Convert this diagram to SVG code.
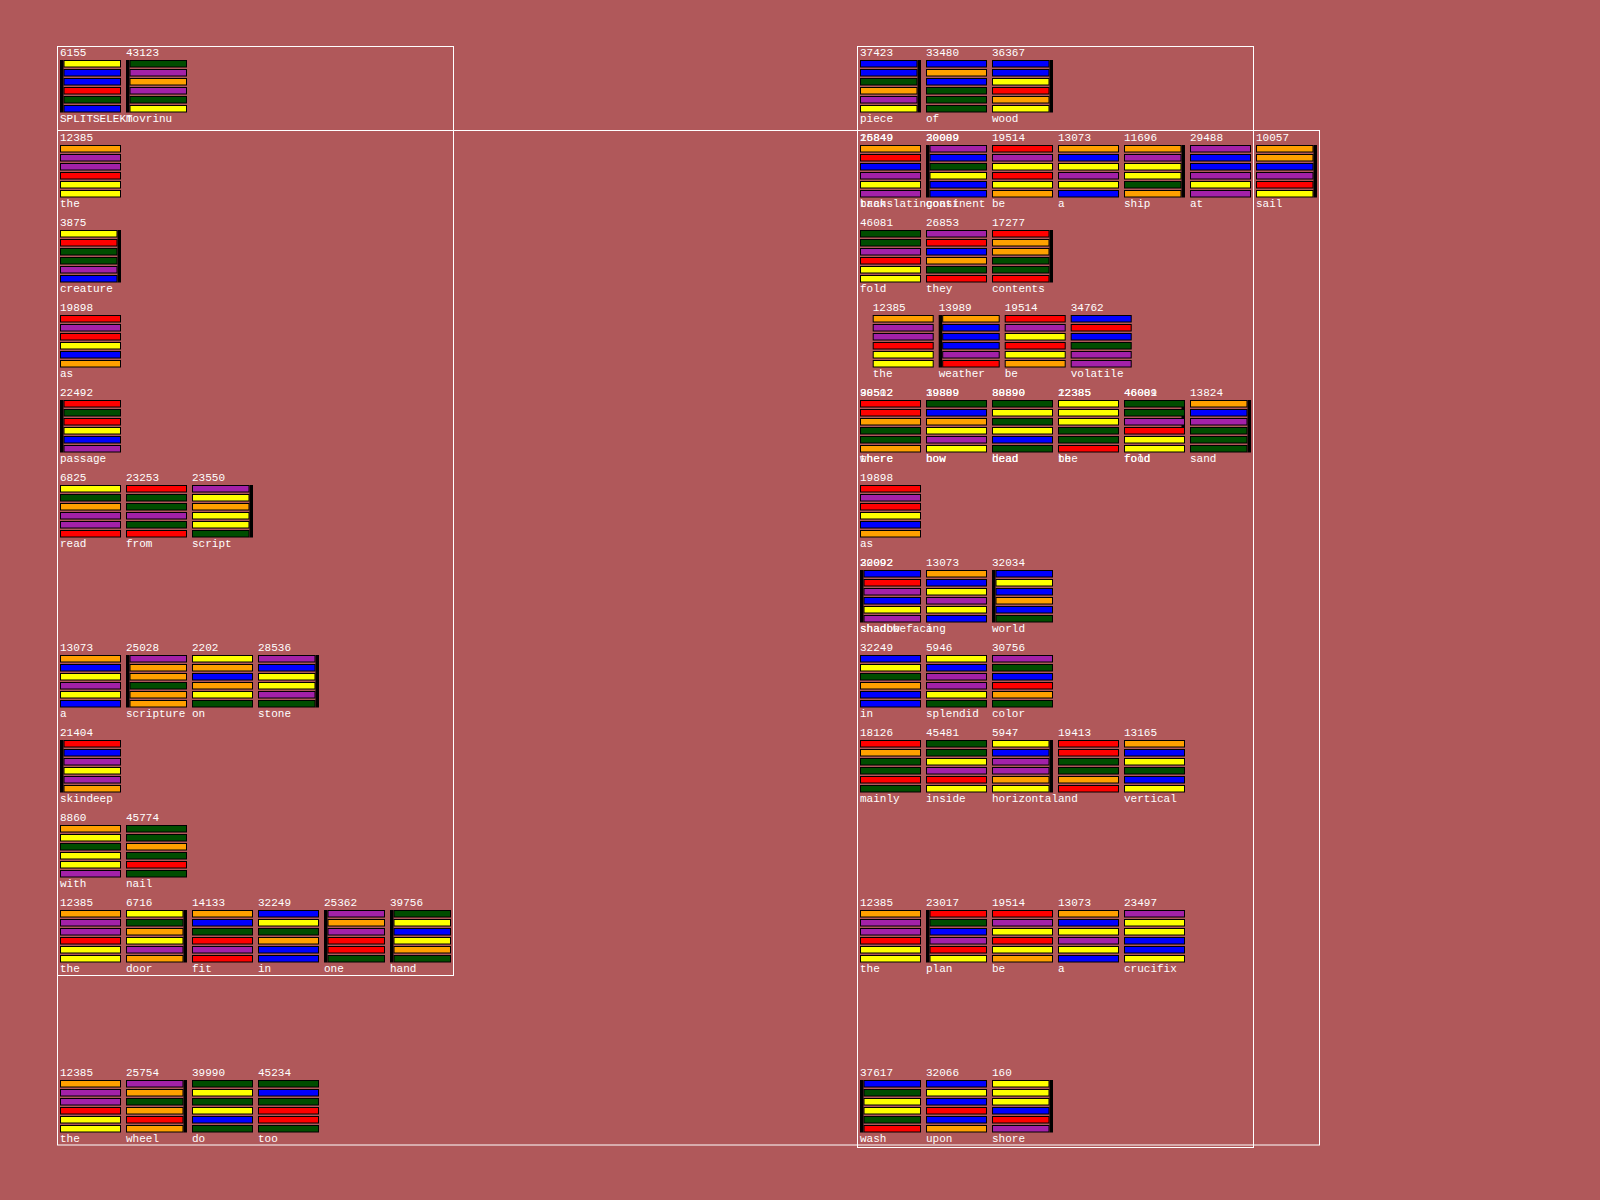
<svg xmlns="http://www.w3.org/2000/svg" width="1600" height="1200" viewBox="0 0 1600 1200">
<style>
text{font-family:"Liberation Mono","DejaVu Sans Mono",monospace;font-size:11px;fill:#fff}
.Y,.B,.R,.G,.P,.O{stroke:#000;stroke-width:1}
.Y{fill:#ffff00}.B{fill:#0000ff}.R{fill:#ff0000}.G{fill:#004d00}.P{fill:#a321a8}.O{fill:#ffa000}
.k{fill:#000}
.frame{fill:none;stroke:#fff;stroke-width:1}
</style>
<rect width="1600" height="1200" fill="#b0585a"/>
<g id="frames">
<rect class="frame" x="57.5" y="46.5" width="396" height="929"/>
<rect class="frame" x="857.5" y="46.5" width="396" height="1101"/>
<rect class="frame" x="57.5" y="130.5" width="1262" height="1014.5"/>
</g>
<g id="connectors"></g>
<g id="left-nodes">
<g id="n-6155" transform="translate(60,60)"><text y="-4.3">6155</text><rect class="k" width="3.5" height="52.5"/><rect class="Y" x="4" y="0.5" width="56.5" height="6.5"/><rect class="B" x="4" y="9.5" width="56.5" height="6.5"/><rect class="B" x="4" y="18.5" width="56.5" height="6.5"/><rect class="R" x="4" y="27.5" width="56.5" height="6.5"/><rect class="G" x="4" y="36.5" width="56.5" height="6.5"/><rect class="B" x="4" y="45.5" width="56.5" height="6.5"/><text y="62.4">SPLITSELEKT</text></g>
<g id="n-43123" transform="translate(126,60)"><text y="-4.3">43123</text><rect class="k" width="3.5" height="52.5"/><rect class="G" x="4" y="0.5" width="56.5" height="6.5"/><rect class="P" x="4" y="9.5" width="56.5" height="6.5"/><rect class="O" x="4" y="18.5" width="56.5" height="6.5"/><rect class="P" x="4" y="27.5" width="56.5" height="6.5"/><rect class="G" x="4" y="36.5" width="56.5" height="6.5"/><rect class="Y" x="4" y="45.5" width="56.5" height="6.5"/><text y="62.4">movrinu</text></g>
<g id="n-12385-a" transform="translate(60,145)"><text y="-4.3">12385</text><rect class="O" x="0.5" y="0.5" width="60" height="6.5"/><rect class="P" x="0.5" y="9.5" width="60" height="6.5"/><rect class="P" x="0.5" y="18.5" width="60" height="6.5"/><rect class="R" x="0.5" y="27.5" width="60" height="6.5"/><rect class="Y" x="0.5" y="36.5" width="60" height="6.5"/><rect class="Y" x="0.5" y="45.5" width="60" height="6.5"/><text y="62.4">the</text></g>
<g id="n-3875" transform="translate(60,230)"><text y="-4.3">3875</text><rect class="k" x="57.5" width="3.5" height="52.5"/><rect class="Y" x="0.5" y="0.5" width="56.5" height="6.5"/><rect class="R" x="0.5" y="9.5" width="56.5" height="6.5"/><rect class="G" x="0.5" y="18.5" width="56.5" height="6.5"/><rect class="G" x="0.5" y="27.5" width="56.5" height="6.5"/><rect class="P" x="0.5" y="36.5" width="56.5" height="6.5"/><rect class="B" x="0.5" y="45.5" width="56.5" height="6.5"/><text y="62.4">creature</text></g>
<g id="n-19898-a" transform="translate(60,315)"><text y="-4.3">19898</text><rect class="R" x="0.5" y="0.5" width="60" height="6.5"/><rect class="P" x="0.5" y="9.5" width="60" height="6.5"/><rect class="R" x="0.5" y="18.5" width="60" height="6.5"/><rect class="Y" x="0.5" y="27.5" width="60" height="6.5"/><rect class="B" x="0.5" y="36.5" width="60" height="6.5"/><rect class="O" x="0.5" y="45.5" width="60" height="6.5"/><text y="62.4">as</text></g>
<g id="n-22492" transform="translate(60,400)"><text y="-4.3">22492</text><rect class="k" width="3.5" height="52.5"/><rect class="R" x="4" y="0.5" width="56.5" height="6.5"/><rect class="G" x="4" y="9.5" width="56.5" height="6.5"/><rect class="R" x="4" y="18.5" width="56.5" height="6.5"/><rect class="Y" x="4" y="27.5" width="56.5" height="6.5"/><rect class="B" x="4" y="36.5" width="56.5" height="6.5"/><rect class="P" x="4" y="45.5" width="56.5" height="6.5"/><text y="62.4">passage</text></g>
<g id="n-6825" transform="translate(60,485)"><text y="-4.3">6825</text><rect class="Y" x="0.5" y="0.5" width="60" height="6.5"/><rect class="G" x="0.5" y="9.5" width="60" height="6.5"/><rect class="O" x="0.5" y="18.5" width="60" height="6.5"/><rect class="P" x="0.5" y="27.5" width="60" height="6.5"/><rect class="P" x="0.5" y="36.5" width="60" height="6.5"/><rect class="R" x="0.5" y="45.5" width="60" height="6.5"/><text y="62.4">read</text></g>
<g id="n-23253" transform="translate(126,485)"><text y="-4.3">23253</text><rect class="R" x="0.5" y="0.5" width="60" height="6.5"/><rect class="G" x="0.5" y="9.5" width="60" height="6.5"/><rect class="G" x="0.5" y="18.5" width="60" height="6.5"/><rect class="P" x="0.5" y="27.5" width="60" height="6.5"/><rect class="G" x="0.5" y="36.5" width="60" height="6.5"/><rect class="R" x="0.5" y="45.5" width="60" height="6.5"/><text y="62.4">from</text></g>
<g id="n-23550" transform="translate(192,485)"><text y="-4.3">23550</text><rect class="k" x="57.5" width="3.5" height="52.5"/><rect class="P" x="0.5" y="0.5" width="56.5" height="6.5"/><rect class="Y" x="0.5" y="9.5" width="56.5" height="6.5"/><rect class="O" x="0.5" y="18.5" width="56.5" height="6.5"/><rect class="Y" x="0.5" y="27.5" width="56.5" height="6.5"/><rect class="Y" x="0.5" y="36.5" width="56.5" height="6.5"/><rect class="G" x="0.5" y="45.5" width="56.5" height="6.5"/><text y="62.4">script</text></g>
<g id="n-13073-a" transform="translate(60,655)"><text y="-4.3">13073</text><rect class="O" x="0.5" y="0.5" width="60" height="6.5"/><rect class="B" x="0.5" y="9.5" width="60" height="6.5"/><rect class="Y" x="0.5" y="18.5" width="60" height="6.5"/><rect class="P" x="0.5" y="27.5" width="60" height="6.5"/><rect class="Y" x="0.5" y="36.5" width="60" height="6.5"/><rect class="B" x="0.5" y="45.5" width="60" height="6.5"/><text y="62.4">a</text></g>
<g id="n-25028" transform="translate(126,655)"><text y="-4.3">25028</text><rect class="k" width="3.5" height="52.5"/><rect class="P" x="4" y="0.5" width="56.5" height="6.5"/><rect class="O" x="4" y="9.5" width="56.5" height="6.5"/><rect class="O" x="4" y="18.5" width="56.5" height="6.5"/><rect class="G" x="4" y="27.5" width="56.5" height="6.5"/><rect class="O" x="4" y="36.5" width="56.5" height="6.5"/><rect class="O" x="4" y="45.5" width="56.5" height="6.5"/><text y="62.4">scripture</text></g>
<g id="n-2202" transform="translate(192,655)"><text y="-4.3">2202</text><rect class="Y" x="0.5" y="0.5" width="60" height="6.5"/><rect class="O" x="0.5" y="9.5" width="60" height="6.5"/><rect class="B" x="0.5" y="18.5" width="60" height="6.5"/><rect class="O" x="0.5" y="27.5" width="60" height="6.5"/><rect class="Y" x="0.5" y="36.5" width="60" height="6.5"/><rect class="G" x="0.5" y="45.5" width="60" height="6.5"/><text y="62.4">on</text></g>
<g id="n-28536" transform="translate(258,655)"><text y="-4.3">28536</text><rect class="k" x="57.5" width="3.5" height="52.5"/><rect class="P" x="0.5" y="0.5" width="56.5" height="6.5"/><rect class="B" x="0.5" y="9.5" width="56.5" height="6.5"/><rect class="Y" x="0.5" y="18.5" width="56.5" height="6.5"/><rect class="Y" x="0.5" y="27.5" width="56.5" height="6.5"/><rect class="P" x="0.5" y="36.5" width="56.5" height="6.5"/><rect class="G" x="0.5" y="45.5" width="56.5" height="6.5"/><text y="62.4">stone</text></g>
<g id="n-21404" transform="translate(60,740)"><text y="-4.3">21404</text><rect class="k" width="3.5" height="52.5"/><rect class="R" x="4" y="0.5" width="56.5" height="6.5"/><rect class="B" x="4" y="9.5" width="56.5" height="6.5"/><rect class="P" x="4" y="18.5" width="56.5" height="6.5"/><rect class="Y" x="4" y="27.5" width="56.5" height="6.5"/><rect class="P" x="4" y="36.5" width="56.5" height="6.5"/><rect class="O" x="4" y="45.5" width="56.5" height="6.5"/><text y="62.4">skindeep</text></g>
<g id="n-8860" transform="translate(60,825)"><text y="-4.3">8860</text><rect class="O" x="0.5" y="0.5" width="60" height="6.5"/><rect class="Y" x="0.5" y="9.5" width="60" height="6.5"/><rect class="G" x="0.5" y="18.5" width="60" height="6.5"/><rect class="Y" x="0.5" y="27.5" width="60" height="6.5"/><rect class="Y" x="0.5" y="36.5" width="60" height="6.5"/><rect class="P" x="0.5" y="45.5" width="60" height="6.5"/><text y="62.4">with</text></g>
<g id="n-45774" transform="translate(126,825)"><text y="-4.3">45774</text><rect class="G" x="0.5" y="0.5" width="60" height="6.5"/><rect class="G" x="0.5" y="9.5" width="60" height="6.5"/><rect class="O" x="0.5" y="18.5" width="60" height="6.5"/><rect class="G" x="0.5" y="27.5" width="60" height="6.5"/><rect class="R" x="0.5" y="36.5" width="60" height="6.5"/><rect class="G" x="0.5" y="45.5" width="60" height="6.5"/><text y="62.4">nail</text></g>
<g id="n-12385-b" transform="translate(60,910)"><text y="-4.3">12385</text><rect class="O" x="0.5" y="0.5" width="60" height="6.5"/><rect class="P" x="0.5" y="9.5" width="60" height="6.5"/><rect class="P" x="0.5" y="18.5" width="60" height="6.5"/><rect class="R" x="0.5" y="27.5" width="60" height="6.5"/><rect class="Y" x="0.5" y="36.5" width="60" height="6.5"/><rect class="Y" x="0.5" y="45.5" width="60" height="6.5"/><text y="62.4">the</text></g>
<g id="n-6716" transform="translate(126,910)"><text y="-4.3">6716</text><rect class="k" x="57.5" width="3.5" height="52.5"/><rect class="Y" x="0.5" y="0.5" width="56.5" height="6.5"/><rect class="G" x="0.5" y="9.5" width="56.5" height="6.5"/><rect class="O" x="0.5" y="18.5" width="56.5" height="6.5"/><rect class="Y" x="0.5" y="27.5" width="56.5" height="6.5"/><rect class="P" x="0.5" y="36.5" width="56.5" height="6.5"/><rect class="O" x="0.5" y="45.5" width="56.5" height="6.5"/><text y="62.4">door</text></g>
<g id="n-14133" transform="translate(192,910)"><text y="-4.3">14133</text><rect class="O" x="0.5" y="0.5" width="60" height="6.5"/><rect class="B" x="0.5" y="9.5" width="60" height="6.5"/><rect class="G" x="0.5" y="18.5" width="60" height="6.5"/><rect class="R" x="0.5" y="27.5" width="60" height="6.5"/><rect class="P" x="0.5" y="36.5" width="60" height="6.5"/><rect class="R" x="0.5" y="45.5" width="60" height="6.5"/><text y="62.4">fit</text></g>
<g id="n-32249-a" transform="translate(258,910)"><text y="-4.3">32249</text><rect class="B" x="0.5" y="0.5" width="60" height="6.5"/><rect class="Y" x="0.5" y="9.5" width="60" height="6.5"/><rect class="G" x="0.5" y="18.5" width="60" height="6.5"/><rect class="O" x="0.5" y="27.5" width="60" height="6.5"/><rect class="B" x="0.5" y="36.5" width="60" height="6.5"/><rect class="B" x="0.5" y="45.5" width="60" height="6.5"/><text y="62.4">in</text></g>
<g id="n-25362" transform="translate(324,910)"><text y="-4.3">25362</text><rect class="k" width="3.5" height="52.5"/><rect class="P" x="4" y="0.5" width="56.5" height="6.5"/><rect class="O" x="4" y="9.5" width="56.5" height="6.5"/><rect class="P" x="4" y="18.5" width="56.5" height="6.5"/><rect class="R" x="4" y="27.5" width="56.5" height="6.5"/><rect class="R" x="4" y="36.5" width="56.5" height="6.5"/><rect class="G" x="4" y="45.5" width="56.5" height="6.5"/><text y="62.4">one</text></g>
<g id="n-39756" transform="translate(390,910)"><text y="-4.3">39756</text><rect class="k" width="3.5" height="52.5"/><rect class="G" x="4" y="0.5" width="56.5" height="6.5"/><rect class="Y" x="4" y="9.5" width="56.5" height="6.5"/><rect class="B" x="4" y="18.5" width="56.5" height="6.5"/><rect class="Y" x="4" y="27.5" width="56.5" height="6.5"/><rect class="O" x="4" y="36.5" width="56.5" height="6.5"/><rect class="G" x="4" y="45.5" width="56.5" height="6.5"/><text y="62.4">hand</text></g>
<g id="n-12385-c" transform="translate(60,1080)"><text y="-4.3">12385</text><rect class="O" x="0.5" y="0.5" width="60" height="6.5"/><rect class="P" x="0.5" y="9.5" width="60" height="6.5"/><rect class="P" x="0.5" y="18.5" width="60" height="6.5"/><rect class="R" x="0.5" y="27.5" width="60" height="6.5"/><rect class="Y" x="0.5" y="36.5" width="60" height="6.5"/><rect class="Y" x="0.5" y="45.5" width="60" height="6.5"/><text y="62.4">the</text></g>
<g id="n-25754" transform="translate(126,1080)"><text y="-4.3">25754</text><rect class="k" x="57.5" width="3.5" height="52.5"/><rect class="P" x="0.5" y="0.5" width="56.5" height="6.5"/><rect class="O" x="0.5" y="9.5" width="56.5" height="6.5"/><rect class="G" x="0.5" y="18.5" width="56.5" height="6.5"/><rect class="O" x="0.5" y="27.5" width="56.5" height="6.5"/><rect class="R" x="0.5" y="36.5" width="56.5" height="6.5"/><rect class="O" x="0.5" y="45.5" width="56.5" height="6.5"/><text y="62.4">wheel</text></g>
<g id="n-39990" transform="translate(192,1080)"><text y="-4.3">39990</text><rect class="G" x="0.5" y="0.5" width="60" height="6.5"/><rect class="Y" x="0.5" y="9.5" width="60" height="6.5"/><rect class="G" x="0.5" y="18.5" width="60" height="6.5"/><rect class="Y" x="0.5" y="27.5" width="60" height="6.5"/><rect class="B" x="0.5" y="36.5" width="60" height="6.5"/><rect class="G" x="0.5" y="45.5" width="60" height="6.5"/><text y="62.4">do</text></g>
<g id="n-45234" transform="translate(258,1080)"><text y="-4.3">45234</text><rect class="G" x="0.5" y="0.5" width="60" height="6.5"/><rect class="B" x="0.5" y="9.5" width="60" height="6.5"/><rect class="G" x="0.5" y="18.5" width="60" height="6.5"/><rect class="R" x="0.5" y="27.5" width="60" height="6.5"/><rect class="R" x="0.5" y="36.5" width="60" height="6.5"/><rect class="G" x="0.5" y="45.5" width="60" height="6.5"/><text y="62.4">too</text></g>
</g>
<g id="right-nodes">
<g id="n-37423" transform="translate(860,60)"><text y="-4.3">37423</text><rect class="k" x="57.5" width="3.5" height="52.5"/><rect class="B" x="0.5" y="0.5" width="56.5" height="6.5"/><rect class="B" x="0.5" y="9.5" width="56.5" height="6.5"/><rect class="G" x="0.5" y="18.5" width="56.5" height="6.5"/><rect class="O" x="0.5" y="27.5" width="56.5" height="6.5"/><rect class="P" x="0.5" y="36.5" width="56.5" height="6.5"/><rect class="Y" x="0.5" y="45.5" width="56.5" height="6.5"/><text y="62.4">piece</text></g>
<g id="n-33480" transform="translate(926,60)"><text y="-4.3">33480</text><rect class="B" x="0.5" y="0.5" width="60" height="6.5"/><rect class="O" x="0.5" y="9.5" width="60" height="6.5"/><rect class="B" x="0.5" y="18.5" width="60" height="6.5"/><rect class="G" x="0.5" y="27.5" width="60" height="6.5"/><rect class="G" x="0.5" y="36.5" width="60" height="6.5"/><rect class="G" x="0.5" y="45.5" width="60" height="6.5"/><text y="62.4">of</text></g>
<g id="n-36367" transform="translate(992,60)"><text y="-4.3">36367</text><rect class="k" x="57.5" width="3.5" height="52.5"/><rect class="B" x="0.5" y="0.5" width="56.5" height="6.5"/><rect class="B" x="0.5" y="9.5" width="56.5" height="6.5"/><rect class="Y" x="0.5" y="18.5" width="56.5" height="6.5"/><rect class="R" x="0.5" y="27.5" width="56.5" height="6.5"/><rect class="O" x="0.5" y="36.5" width="56.5" height="6.5"/><rect class="Y" x="0.5" y="45.5" width="56.5" height="6.5"/><text y="62.4">wood</text></g>
<g id="n-translating" transform="translate(860,145)"><text y="-4.3">16849</text><text y="-4.3">25849</text><rect class="O" x="0.5" y="0.5" width="60" height="6.5"/><rect class="R" x="0.5" y="9.5" width="60" height="6.5"/><rect class="B" x="0.5" y="18.5" width="60" height="6.5"/><rect class="P" x="0.5" y="27.5" width="60" height="6.5"/><rect class="Y" x="0.5" y="36.5" width="60" height="6.5"/><rect class="P" x="0.5" y="45.5" width="60" height="6.5"/><text y="62.4">back</text><text y="62.4">translating</text></g>
<g id="n-continent" transform="translate(926,145)"><text y="-4.3">30009</text><text y="-4.3">20089</text><rect class="k" width="3.5" height="52.5"/><rect class="P" x="4" y="0.5" width="56.5" height="6.5"/><rect class="B" x="4" y="9.5" width="56.5" height="6.5"/><rect class="G" x="4" y="18.5" width="56.5" height="6.5"/><rect class="Y" x="4" y="27.5" width="56.5" height="6.5"/><rect class="B" x="4" y="36.5" width="56.5" height="6.5"/><rect class="B" x="4" y="45.5" width="56.5" height="6.5"/><text y="62.4">coast</text><text y="62.4">continent</text></g>
<g id="n-19514-a" transform="translate(992,145)"><text y="-4.3">19514</text><rect class="R" x="0.5" y="0.5" width="60" height="6.5"/><rect class="P" x="0.5" y="9.5" width="60" height="6.5"/><rect class="Y" x="0.5" y="18.5" width="60" height="6.5"/><rect class="R" x="0.5" y="27.5" width="60" height="6.5"/><rect class="Y" x="0.5" y="36.5" width="60" height="6.5"/><rect class="O" x="0.5" y="45.5" width="60" height="6.5"/><text y="62.4">be</text></g>
<g id="n-13073-b" transform="translate(1058,145)"><text y="-4.3">13073</text><rect class="O" x="0.5" y="0.5" width="60" height="6.5"/><rect class="B" x="0.5" y="9.5" width="60" height="6.5"/><rect class="Y" x="0.5" y="18.5" width="60" height="6.5"/><rect class="P" x="0.5" y="27.5" width="60" height="6.5"/><rect class="Y" x="0.5" y="36.5" width="60" height="6.5"/><rect class="B" x="0.5" y="45.5" width="60" height="6.5"/><text y="62.4">a</text></g>
<g id="n-11696" transform="translate(1124,145)"><text y="-4.3">11696</text><rect class="k" x="57.5" width="3.5" height="52.5"/><rect class="O" x="0.5" y="0.5" width="56.5" height="6.5"/><rect class="P" x="0.5" y="9.5" width="56.5" height="6.5"/><rect class="Y" x="0.5" y="18.5" width="56.5" height="6.5"/><rect class="Y" x="0.5" y="27.5" width="56.5" height="6.5"/><rect class="G" x="0.5" y="36.5" width="56.5" height="6.5"/><rect class="O" x="0.5" y="45.5" width="56.5" height="6.5"/><text y="62.4">ship</text></g>
<g id="n-29488" transform="translate(1190,145)"><text y="-4.3">29488</text><rect class="P" x="0.5" y="0.5" width="60" height="6.5"/><rect class="B" x="0.5" y="9.5" width="60" height="6.5"/><rect class="B" x="0.5" y="18.5" width="60" height="6.5"/><rect class="P" x="0.5" y="27.5" width="60" height="6.5"/><rect class="Y" x="0.5" y="36.5" width="60" height="6.5"/><rect class="P" x="0.5" y="45.5" width="60" height="6.5"/><text y="62.4">at</text></g>
<g id="n-10057" transform="translate(1256,145)"><text y="-4.3">10057</text><rect class="k" x="57.5" width="3.5" height="52.5"/><rect class="O" x="0.5" y="0.5" width="56.5" height="6.5"/><rect class="O" x="0.5" y="9.5" width="56.5" height="6.5"/><rect class="B" x="0.5" y="18.5" width="56.5" height="6.5"/><rect class="P" x="0.5" y="27.5" width="56.5" height="6.5"/><rect class="R" x="0.5" y="36.5" width="56.5" height="6.5"/><rect class="Y" x="0.5" y="45.5" width="56.5" height="6.5"/><text y="62.4">sail</text></g>
<g id="n-46081-a" transform="translate(860,230)"><text y="-4.3">46081</text><rect class="G" x="0.5" y="0.5" width="60" height="6.5"/><rect class="G" x="0.5" y="9.5" width="60" height="6.5"/><rect class="P" x="0.5" y="18.5" width="60" height="6.5"/><rect class="R" x="0.5" y="27.5" width="60" height="6.5"/><rect class="Y" x="0.5" y="36.5" width="60" height="6.5"/><rect class="Y" x="0.5" y="45.5" width="60" height="6.5"/><text y="62.4">fold</text></g>
<g id="n-26853" transform="translate(926,230)"><text y="-4.3">26853</text><rect class="P" x="0.5" y="0.5" width="60" height="6.5"/><rect class="R" x="0.5" y="9.5" width="60" height="6.5"/><rect class="B" x="0.5" y="18.5" width="60" height="6.5"/><rect class="O" x="0.5" y="27.5" width="60" height="6.5"/><rect class="G" x="0.5" y="36.5" width="60" height="6.5"/><rect class="R" x="0.5" y="45.5" width="60" height="6.5"/><text y="62.4">they</text></g>
<g id="n-17277" transform="translate(992,230)"><text y="-4.3">17277</text><rect class="k" x="57.5" width="3.5" height="52.5"/><rect class="R" x="0.5" y="0.5" width="56.5" height="6.5"/><rect class="O" x="0.5" y="9.5" width="56.5" height="6.5"/><rect class="O" x="0.5" y="18.5" width="56.5" height="6.5"/><rect class="G" x="0.5" y="27.5" width="56.5" height="6.5"/><rect class="G" x="0.5" y="36.5" width="56.5" height="6.5"/><rect class="R" x="0.5" y="45.5" width="56.5" height="6.5"/><text y="62.4">contents</text></g>
<g id="n-12385-d" transform="translate(872.7,315)"><text y="-4.3">12385</text><rect class="O" x="0.5" y="0.5" width="60" height="6.5"/><rect class="P" x="0.5" y="9.5" width="60" height="6.5"/><rect class="P" x="0.5" y="18.5" width="60" height="6.5"/><rect class="R" x="0.5" y="27.5" width="60" height="6.5"/><rect class="Y" x="0.5" y="36.5" width="60" height="6.5"/><rect class="Y" x="0.5" y="45.5" width="60" height="6.5"/><text y="62.4">the</text></g>
<g id="n-13989" transform="translate(938.7,315)"><text y="-4.3">13989</text><rect class="k" width="3.5" height="52.5"/><rect class="O" x="4" y="0.5" width="56.5" height="6.5"/><rect class="B" x="4" y="9.5" width="56.5" height="6.5"/><rect class="B" x="4" y="18.5" width="56.5" height="6.5"/><rect class="B" x="4" y="27.5" width="56.5" height="6.5"/><rect class="P" x="4" y="36.5" width="56.5" height="6.5"/><rect class="R" x="4" y="45.5" width="56.5" height="6.5"/><text y="62.4">weather</text></g>
<g id="n-19514-b" transform="translate(1004.7,315)"><text y="-4.3">19514</text><rect class="R" x="0.5" y="0.5" width="60" height="6.5"/><rect class="P" x="0.5" y="9.5" width="60" height="6.5"/><rect class="Y" x="0.5" y="18.5" width="60" height="6.5"/><rect class="R" x="0.5" y="27.5" width="60" height="6.5"/><rect class="Y" x="0.5" y="36.5" width="60" height="6.5"/><rect class="O" x="0.5" y="45.5" width="60" height="6.5"/><text y="62.4">be</text></g>
<g id="n-34762" transform="translate(1070.7,315)"><text y="-4.3">34762</text><rect class="B" x="0.5" y="0.5" width="60" height="6.5"/><rect class="R" x="0.5" y="9.5" width="60" height="6.5"/><rect class="B" x="0.5" y="18.5" width="60" height="6.5"/><rect class="G" x="0.5" y="27.5" width="60" height="6.5"/><rect class="P" x="0.5" y="36.5" width="60" height="6.5"/><rect class="P" x="0.5" y="45.5" width="60" height="6.5"/><text y="62.4">volatile</text></g>
<g id="n-where" transform="translate(860,400)"><text y="-4.3">30502</text><text y="-4.3">98512</text><rect class="R" x="0.5" y="0.5" width="60" height="6.5"/><rect class="R" x="0.5" y="9.5" width="60" height="6.5"/><rect class="O" x="0.5" y="18.5" width="60" height="6.5"/><rect class="G" x="0.5" y="27.5" width="60" height="6.5"/><rect class="G" x="0.5" y="36.5" width="60" height="6.5"/><rect class="O" x="0.5" y="45.5" width="60" height="6.5"/><text y="62.4">there</text><text y="62.4">where</text></g>
<g id="n-bow" transform="translate(926,400)"><text y="-4.3">39889</text><text y="-4.3">19809</text><rect class="G" x="0.5" y="0.5" width="60" height="6.5"/><rect class="B" x="0.5" y="9.5" width="60" height="6.5"/><rect class="O" x="0.5" y="18.5" width="60" height="6.5"/><rect class="Y" x="0.5" y="27.5" width="60" height="6.5"/><rect class="P" x="0.5" y="36.5" width="60" height="6.5"/><rect class="Y" x="0.5" y="45.5" width="60" height="6.5"/><text y="62.4">how</text><text y="62.4">bow</text></g>
<g id="n-dead" transform="translate(992,400)"><text y="-4.3">38890</text><text y="-4.3">80890</text><rect class="G" x="0.5" y="0.5" width="60" height="6.5"/><rect class="Y" x="0.5" y="9.5" width="60" height="6.5"/><rect class="G" x="0.5" y="18.5" width="60" height="6.5"/><rect class="Y" x="0.5" y="27.5" width="60" height="6.5"/><rect class="B" x="0.5" y="36.5" width="60" height="6.5"/><rect class="G" x="0.5" y="45.5" width="60" height="6.5"/><text y="62.4">head</text><text y="62.4">dead</text></g>
<g id="n-the-be" transform="translate(1058,400)"><text y="-4.3">22385</text><text y="-4.3">12385</text><rect class="Y" x="0.5" y="0.5" width="60" height="6.5"/><rect class="Y" x="0.5" y="9.5" width="60" height="6.5"/><rect class="Y" x="0.5" y="18.5" width="60" height="6.5"/><rect class="G" x="0.5" y="27.5" width="60" height="6.5"/><rect class="G" x="0.5" y="36.5" width="60" height="6.5"/><rect class="R" x="0.5" y="45.5" width="60" height="6.5"/><text y="62.4">the</text><text y="62.4">be</text></g>
<g id="n-food" transform="translate(1124,400)"><text y="-4.3">46009</text><text y="-4.3">46081</text><rect class="k" x="57.5" width="3.5" height="34"/><rect class="G" x="0.5" y="0.5" width="60" height="6.5"/><rect class="G" x="0.5" y="9.5" width="60" height="6.5"/><rect class="P" x="0.5" y="18.5" width="60" height="6.5"/><rect class="R" x="0.5" y="27.5" width="60" height="6.5"/><rect class="Y" x="0.5" y="36.5" width="60" height="6.5"/><rect class="Y" x="0.5" y="45.5" width="60" height="6.5"/><text y="62.4">food</text><text y="62.4">fold</text></g>
<g id="n-13824" transform="translate(1190,400)"><text y="-4.3">13824</text><rect class="k" x="57.5" width="3.5" height="52.5"/><rect class="O" x="0.5" y="0.5" width="56.5" height="6.5"/><rect class="B" x="0.5" y="9.5" width="56.5" height="6.5"/><rect class="P" x="0.5" y="18.5" width="56.5" height="6.5"/><rect class="G" x="0.5" y="27.5" width="56.5" height="6.5"/><rect class="G" x="0.5" y="36.5" width="56.5" height="6.5"/><rect class="G" x="0.5" y="45.5" width="56.5" height="6.5"/><text y="62.4">sand</text></g>
<g id="n-19898-b" transform="translate(860,485)"><text y="-4.3">19898</text><rect class="R" x="0.5" y="0.5" width="60" height="6.5"/><rect class="P" x="0.5" y="9.5" width="60" height="6.5"/><rect class="R" x="0.5" y="18.5" width="60" height="6.5"/><rect class="Y" x="0.5" y="27.5" width="60" height="6.5"/><rect class="B" x="0.5" y="36.5" width="60" height="6.5"/><rect class="O" x="0.5" y="45.5" width="60" height="6.5"/><text y="62.4">as</text></g>
<g id="n-shadow" transform="translate(860,570)"><text y="-4.3">20092</text><text y="-4.3">32092</text><rect class="k" width="3.5" height="52.5"/><rect class="B" x="4" y="0.5" width="56.5" height="6.5"/><rect class="R" x="4" y="9.5" width="56.5" height="6.5"/><rect class="P" x="4" y="18.5" width="56.5" height="6.5"/><rect class="B" x="4" y="27.5" width="56.5" height="6.5"/><rect class="Y" x="4" y="36.5" width="56.5" height="6.5"/><rect class="P" x="4" y="45.5" width="56.5" height="6.5"/><text y="62.4">shadbbefacing</text><text y="62.4">shadow</text></g>
<g id="n-13073-c" transform="translate(926,570)"><text y="-4.3">13073</text><rect class="O" x="0.5" y="0.5" width="60" height="6.5"/><rect class="B" x="0.5" y="9.5" width="60" height="6.5"/><rect class="Y" x="0.5" y="18.5" width="60" height="6.5"/><rect class="P" x="0.5" y="27.5" width="60" height="6.5"/><rect class="Y" x="0.5" y="36.5" width="60" height="6.5"/><rect class="B" x="0.5" y="45.5" width="60" height="6.5"/><text y="62.4">a</text></g>
<g id="n-32034" transform="translate(992,570)"><text y="-4.3">32034</text><rect class="k" width="3.5" height="52.5"/><rect class="B" x="4" y="0.5" width="56.5" height="6.5"/><rect class="Y" x="4" y="9.5" width="56.5" height="6.5"/><rect class="B" x="4" y="18.5" width="56.5" height="6.5"/><rect class="O" x="4" y="27.5" width="56.5" height="6.5"/><rect class="B" x="4" y="36.5" width="56.5" height="6.5"/><rect class="G" x="4" y="45.5" width="56.5" height="6.5"/><text y="62.4">world</text></g>
<g id="n-32249-b" transform="translate(860,655)"><text y="-4.3">32249</text><rect class="B" x="0.5" y="0.5" width="60" height="6.5"/><rect class="Y" x="0.5" y="9.5" width="60" height="6.5"/><rect class="G" x="0.5" y="18.5" width="60" height="6.5"/><rect class="O" x="0.5" y="27.5" width="60" height="6.5"/><rect class="B" x="0.5" y="36.5" width="60" height="6.5"/><rect class="B" x="0.5" y="45.5" width="60" height="6.5"/><text y="62.4">in</text></g>
<g id="n-5946" transform="translate(926,655)"><text y="-4.3">5946</text><rect class="Y" x="0.5" y="0.5" width="60" height="6.5"/><rect class="B" x="0.5" y="9.5" width="60" height="6.5"/><rect class="P" x="0.5" y="18.5" width="60" height="6.5"/><rect class="P" x="0.5" y="27.5" width="60" height="6.5"/><rect class="Y" x="0.5" y="36.5" width="60" height="6.5"/><rect class="G" x="0.5" y="45.5" width="60" height="6.5"/><text y="62.4">splendid</text></g>
<g id="n-30756" transform="translate(992,655)"><text y="-4.3">30756</text><rect class="P" x="0.5" y="0.5" width="60" height="6.5"/><rect class="G" x="0.5" y="9.5" width="60" height="6.5"/><rect class="B" x="0.5" y="18.5" width="60" height="6.5"/><rect class="R" x="0.5" y="27.5" width="60" height="6.5"/><rect class="O" x="0.5" y="36.5" width="60" height="6.5"/><rect class="G" x="0.5" y="45.5" width="60" height="6.5"/><text y="62.4">color</text></g>
<g id="n-18126" transform="translate(860,740)"><text y="-4.3">18126</text><rect class="R" x="0.5" y="0.5" width="60" height="6.5"/><rect class="O" x="0.5" y="9.5" width="60" height="6.5"/><rect class="G" x="0.5" y="18.5" width="60" height="6.5"/><rect class="G" x="0.5" y="27.5" width="60" height="6.5"/><rect class="R" x="0.5" y="36.5" width="60" height="6.5"/><rect class="G" x="0.5" y="45.5" width="60" height="6.5"/><text y="62.4">mainly</text></g>
<g id="n-45481" transform="translate(926,740)"><text y="-4.3">45481</text><rect class="G" x="0.5" y="0.5" width="60" height="6.5"/><rect class="G" x="0.5" y="9.5" width="60" height="6.5"/><rect class="Y" x="0.5" y="18.5" width="60" height="6.5"/><rect class="P" x="0.5" y="27.5" width="60" height="6.5"/><rect class="R" x="0.5" y="36.5" width="60" height="6.5"/><rect class="Y" x="0.5" y="45.5" width="60" height="6.5"/><text y="62.4">inside</text></g>
<g id="n-5947" transform="translate(992,740)"><text y="-4.3">5947</text><rect class="k" x="57.5" width="3.5" height="52.5"/><rect class="Y" x="0.5" y="0.5" width="56.5" height="6.5"/><rect class="B" x="0.5" y="9.5" width="56.5" height="6.5"/><rect class="P" x="0.5" y="18.5" width="56.5" height="6.5"/><rect class="P" x="0.5" y="27.5" width="56.5" height="6.5"/><rect class="O" x="0.5" y="36.5" width="56.5" height="6.5"/><rect class="Y" x="0.5" y="45.5" width="56.5" height="6.5"/><text y="62.4">horizontal</text></g>
<g id="n-19413" transform="translate(1058,740)"><text y="-4.3">19413</text><rect class="R" x="0.5" y="0.5" width="60" height="6.5"/><rect class="R" x="0.5" y="9.5" width="60" height="6.5"/><rect class="G" x="0.5" y="18.5" width="60" height="6.5"/><rect class="G" x="0.5" y="27.5" width="60" height="6.5"/><rect class="O" x="0.5" y="36.5" width="60" height="6.5"/><rect class="R" x="0.5" y="45.5" width="60" height="6.5"/><text y="62.4">and</text></g>
<g id="n-13165" transform="translate(1124,740)"><text y="-4.3">13165</text><rect class="O" x="0.5" y="0.5" width="60" height="6.5"/><rect class="B" x="0.5" y="9.5" width="60" height="6.5"/><rect class="Y" x="0.5" y="18.5" width="60" height="6.5"/><rect class="G" x="0.5" y="27.5" width="60" height="6.5"/><rect class="B" x="0.5" y="36.5" width="60" height="6.5"/><rect class="Y" x="0.5" y="45.5" width="60" height="6.5"/><text y="62.4">vertical</text></g>
<g id="n-12385-e" transform="translate(860,910)"><text y="-4.3">12385</text><rect class="O" x="0.5" y="0.5" width="60" height="6.5"/><rect class="P" x="0.5" y="9.5" width="60" height="6.5"/><rect class="P" x="0.5" y="18.5" width="60" height="6.5"/><rect class="R" x="0.5" y="27.5" width="60" height="6.5"/><rect class="Y" x="0.5" y="36.5" width="60" height="6.5"/><rect class="Y" x="0.5" y="45.5" width="60" height="6.5"/><text y="62.4">the</text></g>
<g id="n-23017" transform="translate(926,910)"><text y="-4.3">23017</text><rect class="k" width="3.5" height="52.5"/><rect class="R" x="4" y="0.5" width="56.5" height="6.5"/><rect class="G" x="4" y="9.5" width="56.5" height="6.5"/><rect class="B" x="4" y="18.5" width="56.5" height="6.5"/><rect class="P" x="4" y="27.5" width="56.5" height="6.5"/><rect class="R" x="4" y="36.5" width="56.5" height="6.5"/><rect class="Y" x="4" y="45.5" width="56.5" height="6.5"/><text y="62.4">plan</text></g>
<g id="n-19514-c" transform="translate(992,910)"><text y="-4.3">19514</text><rect class="R" x="0.5" y="0.5" width="60" height="6.5"/><rect class="P" x="0.5" y="9.5" width="60" height="6.5"/><rect class="Y" x="0.5" y="18.5" width="60" height="6.5"/><rect class="R" x="0.5" y="27.5" width="60" height="6.5"/><rect class="Y" x="0.5" y="36.5" width="60" height="6.5"/><rect class="O" x="0.5" y="45.5" width="60" height="6.5"/><text y="62.4">be</text></g>
<g id="n-13073-d" transform="translate(1058,910)"><text y="-4.3">13073</text><rect class="O" x="0.5" y="0.5" width="60" height="6.5"/><rect class="B" x="0.5" y="9.5" width="60" height="6.5"/><rect class="Y" x="0.5" y="18.5" width="60" height="6.5"/><rect class="P" x="0.5" y="27.5" width="60" height="6.5"/><rect class="Y" x="0.5" y="36.5" width="60" height="6.5"/><rect class="B" x="0.5" y="45.5" width="60" height="6.5"/><text y="62.4">a</text></g>
<g id="n-23497" transform="translate(1124,910)"><text y="-4.3">23497</text><rect class="P" x="0.5" y="0.5" width="60" height="6.5"/><rect class="Y" x="0.5" y="9.5" width="60" height="6.5"/><rect class="Y" x="0.5" y="18.5" width="60" height="6.5"/><rect class="B" x="0.5" y="27.5" width="60" height="6.5"/><rect class="B" x="0.5" y="36.5" width="60" height="6.5"/><rect class="Y" x="0.5" y="45.5" width="60" height="6.5"/><text y="62.4">crucifix</text></g>
<g id="n-37617" transform="translate(860,1080)"><text y="-4.3">37617</text><rect class="k" width="3.5" height="52.5"/><rect class="B" x="4" y="0.5" width="56.5" height="6.5"/><rect class="G" x="4" y="9.5" width="56.5" height="6.5"/><rect class="Y" x="4" y="18.5" width="56.5" height="6.5"/><rect class="Y" x="4" y="27.5" width="56.5" height="6.5"/><rect class="G" x="4" y="36.5" width="56.5" height="6.5"/><rect class="R" x="4" y="45.5" width="56.5" height="6.5"/><text y="62.4">wash</text></g>
<g id="n-32066" transform="translate(926,1080)"><text y="-4.3">32066</text><rect class="B" x="0.5" y="0.5" width="60" height="6.5"/><rect class="Y" x="0.5" y="9.5" width="60" height="6.5"/><rect class="B" x="0.5" y="18.5" width="60" height="6.5"/><rect class="R" x="0.5" y="27.5" width="60" height="6.5"/><rect class="B" x="0.5" y="36.5" width="60" height="6.5"/><rect class="O" x="0.5" y="45.5" width="60" height="6.5"/><text y="62.4">upon</text></g>
<g id="n-160" transform="translate(992,1080)"><text y="-4.3">160</text><rect class="k" x="57.5" width="3.5" height="52.5"/><rect class="Y" x="0.5" y="0.5" width="56.5" height="6.5"/><rect class="Y" x="0.5" y="9.5" width="56.5" height="6.5"/><rect class="Y" x="0.5" y="18.5" width="56.5" height="6.5"/><rect class="B" x="0.5" y="27.5" width="56.5" height="6.5"/><rect class="R" x="0.5" y="36.5" width="56.5" height="6.5"/><rect class="P" x="0.5" y="45.5" width="56.5" height="6.5"/><text y="62.4">shore</text></g>
</g>
</svg>
